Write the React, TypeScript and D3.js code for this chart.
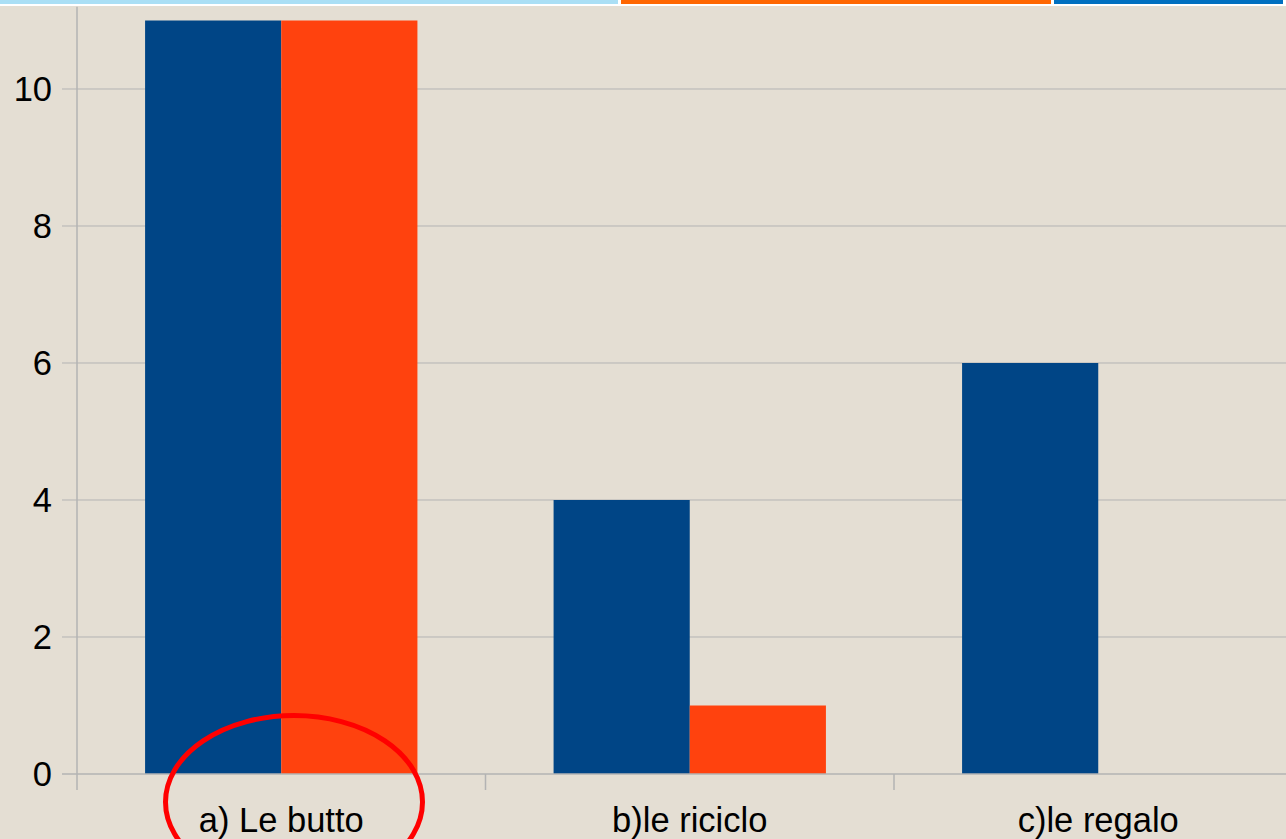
import { useEffect, useRef } from 'react';
import * as d3 from 'd3';

const categories = ['a) Le butto', 'b)le riciclo', 'c)le regalo'];
const seriesNames = ['Serie 1', 'Serie 2'];
const series1 = [11, 4, 6];
const series2 = [11, 1, 0];
const yTicks = [0, 2, 4, 6, 8, 10];
const stripColors = ['#aadff5', '#ff6600', '#0070c0'];
const stripStops = [0, 621, 1054, 1286];

export default function App() {
  const svgRef = useRef<SVGSVGElement>(null);

  useEffect(() => {
    if (!svgRef.current) return;
    const svg = d3.select(svgRef.current);
    svg.selectAll('*').remove();

    const W = 1286;
    const H = 839;
    const font = '"Liberation Sans", Arial, sans-serif';

    // background
    svg.append('rect').attr('width', W).attr('height', H).attr('fill', '#ffffff');
    svg.append('rect').attr('y', 6).attr('width', W).attr('height', H - 6).attr('fill', '#e4ded3');

    // top decorative strip
    stripColors.forEach((c, i) => {
      svg.append('rect')
        .attr('x', stripStops[i])
        .attr('y', 0)
        .attr('width', stripStops[i + 1] - stripStops[i] - 3)
        .attr('height', 4)
        .attr('fill', c);
    });

    const left = 77;
    const bandW = 408.5;
    const x = d3.scaleBand<string>()
      .domain(categories)
      .range([left, left + bandW * categories.length]);

    const y = d3.scaleLinear().domain([0, 10]).range([774, 89]);
    const yTop = y(11.2);

    // each bar takes a third of the category, half a bar of space either side
    const inner = d3.scaleBand<string>()
      .domain(seriesNames)
      .range([0, x.bandwidth()])
      .paddingOuter(0.5);

    // grid lines
    svg.append('g')
      .selectAll('line')
      .data(yTicks.filter(d => d > 0))
      .enter().append('line')
      .attr('x1', left - 15)
      .attr('x2', W)
      .attr('y1', d => y(d))
      .attr('y2', d => y(d))
      .attr('stroke', '#b3b3b3')
      .attr('stroke-width', 1);

    // bars
    const data = categories.map((c, i) => ({ c, vals: [series1[i], series2[i]] }));
    const colors = ['#004586', '#ff420e'];
    data.forEach(d => {
      d.vals.forEach((v, j) => {
        if (v <= 0) return;
        svg.append('rect')
          .attr('x', (x(d.c) as number) + (inner(seriesNames[j]) as number))
          .attr('y', y(v))
          .attr('width', inner.bandwidth())
          .attr('height', y(0) - y(v))
          .attr('fill', colors[j]);
      });
    });

    // axes
    svg.append('line')
      .attr('x1', left).attr('x2', left)
      .attr('y1', yTop).attr('y2', 790)
      .attr('stroke', '#b3b3b3').attr('stroke-width', 1.5);
    svg.append('line')
      .attr('x1', left - 15).attr('x2', W)
      .attr('y1', y(0)).attr('y2', y(0))
      .attr('stroke', '#b3b3b3').attr('stroke-width', 1.5);

    // category tick marks at band boundaries
    categories.forEach(c => {
      const bx = (x(c) as number) + x.bandwidth();
      svg.append('line')
        .attr('x1', bx).attr('x2', bx)
        .attr('y1', y(0)).attr('y2', 790)
        .attr('stroke', '#b3b3b3').attr('stroke-width', 1.5);
    });

    // y tick labels
    svg.append('g')
      .selectAll('text')
      .data(yTicks)
      .enter().append('text')
      .attr('x', 52)
      .attr('y', d => y(d) + 12)
      .attr('text-anchor', 'end')
      .style('font-family', font)
      .style('font-size', '34.5px')
      .style('fill', '#000')
      .text(d => d);

    // category labels
    svg.append('g')
      .selectAll('text')
      .data(categories)
      .enter().append('text')
      .attr('x', d => (x(d) as number) + x.bandwidth() / 2)
      .attr('y', 832)
      .attr('text-anchor', 'middle')
      .style('font-family', font)
      .style('font-size', '34.5px')
      .style('fill', '#000')
      .text(d => d);

    // red hand-drawn circle highlight
    svg.append('ellipse')
      .attr('cx', 294)
      .attr('cy', 802)
      .attr('rx', 128.5)
      .attr('ry', 86.5)
      .attr('fill', 'none')
      .attr('stroke', '#ff0000')
      .attr('stroke-width', 5);
  }, []);

  return (
    <svg
      ref={svgRef}
      width={1286}
      height={839}
      style={{ position: 'fixed', left: 0, top: 0, display: 'block' }}
    />
  );
}
